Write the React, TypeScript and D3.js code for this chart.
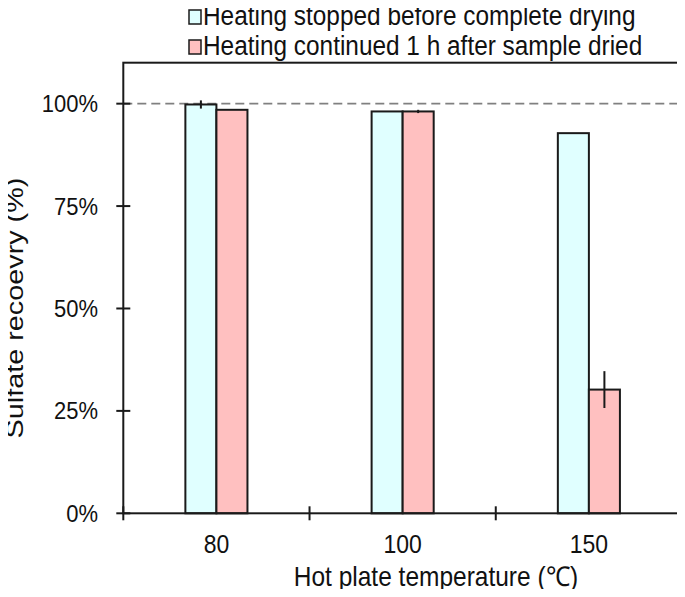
import React, { useEffect, useRef } from 'react'
import * as d3 from 'd3'

const categories = ['80', '100', '150']
const seriesNames = [
  'Heating stopped before complete drying',
  'Heating continued 1 h after sample dried',
]
const stoppedValues = [99.8, 98.1, 92.8]
const stoppedErrors = [1.0, 0, 0]
const continuedValues = [98.5, 98.1, 30.2]
const continuedErrors = [0, 0.4, 4.5]
const yTicks = [0, 25, 50, 75, 100]
const colors = ['#e0ffff', '#ffc0c0']

// the source figure is stretched a bit vertically, so text is too
const STRETCH = 1.12

export default function App() {
  const svgRef = useRef<SVGSVGElement>(null)

  useEffect(() => {
    if (!svgRef.current) return
    const svg = d3.select(svgRef.current)
    svg.selectAll('*').remove()

    const width = 685
    const height = 597
    const margin = { top: 62.7, right: 3, bottom: 83.7, left: 123.3 }
    const font = "'Liberation Sans', Arial, sans-serif"

    svg.attr('width', width).attr('height', height)

    const label = (x: number, y: number, text: string, size: number, anchor: string) =>
      svg.append('text')
        .attr('transform', `translate(${x},${y}) scale(1,${STRETCH})`)
        .attr('text-anchor', anchor)
        .attr('font-family', font)
        .attr('font-size', size)
        .attr('fill', '#111')
        .text(text)

    const x = d3
      .scaleBand<string>()
      .domain(categories)
      .range([margin.left, width - margin.right])

    const y = d3
      .scaleLinear()
      .domain([0, 110])
      .range([height - margin.bottom, margin.top])

    const x1 = d3
      .scaleBand<number>()
      .domain([0, 1])
      .range([0, x.bandwidth() / 3])

    const series = [
      { values: stoppedValues, errors: stoppedErrors },
      { values: continuedValues, errors: continuedErrors },
    ]

    // 100% reference line
    svg.append('line')
      .attr('x1', margin.left)
      .attr('x2', width - margin.right)
      .attr('y1', y(100))
      .attr('y2', y(100))
      .attr('stroke', '#808080')
      .attr('stroke-width', 1.8)
      .attr('stroke-dasharray', '9,5')

    // bars
    series.forEach((s, si) => {
      categories.forEach((c, ci) => {
        const bx = (x(c) as number) + x.bandwidth() / 3 + (x1(si) as number)
        svg.append('rect')
          .attr('x', bx)
          .attr('y', y(s.values[ci]))
          .attr('width', x1.bandwidth())
          .attr('height', y(0) - y(s.values[ci]))
          .attr('fill', colors[si])
          .attr('stroke', '#1a1a1a')
          .attr('stroke-width', 2)
        if (s.errors[ci] > 0) {
          const cx = bx + x1.bandwidth() / 2
          svg.append('line')
            .attr('x1', cx)
            .attr('x2', cx)
            .attr('y1', y(s.values[ci] + s.errors[ci]))
            .attr('y2', y(s.values[ci] - s.errors[ci]))
            .attr('stroke', '#1a1a1a')
            .attr('stroke-width', 2)
        }
      })
    })

    // plot frame
    svg.append('rect')
      .attr('x', margin.left)
      .attr('y', margin.top)
      .attr('width', width - margin.right - margin.left)
      .attr('height', y(0) - margin.top)
      .attr('fill', 'none')
      .attr('stroke', '#1a1a1a')
      .attr('stroke-width', 2)

    // y ticks
    yTicks.forEach((t) => {
      svg.append('line')
        .attr('x1', margin.left - 7)
        .attr('x2', margin.left + 7)
        .attr('y1', y(t))
        .attr('y2', y(t))
        .attr('stroke', '#1a1a1a')
        .attr('stroke-width', 2)
      label(98, y(t) + 8.5, `${t}%`, 22, 'end')
    })

    // x ticks at band edges
    const edges = categories.map((c) => x(c) as number).concat([width - margin.right])
    edges.forEach((e) => {
      svg.append('line')
        .attr('x1', e)
        .attr('x2', e)
        .attr('y1', y(0) - 7)
        .attr('y2', y(0) + 7)
        .attr('stroke', '#1a1a1a')
        .attr('stroke-width', 2)
    })
    categories.forEach((c) => {
      label((x(c) as number) + x.bandwidth() / 2, 553, c, 23, 'middle')
    })

    label(436, 586, 'Hot plate temperature (℃)', 24.5, 'middle')

    svg.append('text')
      .attr('transform', `translate(23,${(margin.top + y(0)) / 2 + 20}) rotate(-90) scale(1.2,1)`)
      .attr('text-anchor', 'middle')
      .attr('font-family', font)
      .attr('font-size', 24)
      .attr('fill', '#111')
      .text('Sulfate recoevry (%)')

    // legend
    seriesNames.forEach((name, i) => {
      const base = 25 + i * 30
      svg.append('rect')
        .attr('x', 189)
        .attr('y', base - 15)
        .attr('width', 12)
        .attr('height', 14)
        .attr('fill', colors[i])
        .attr('stroke', '#1a1a1a')
        .attr('stroke-width', 1.5)
      label(203, base, name, 24.4, 'start')
    })
  }, [])

  return <svg ref={svgRef} style={{ display: 'block', margin: -8 }} />
}
